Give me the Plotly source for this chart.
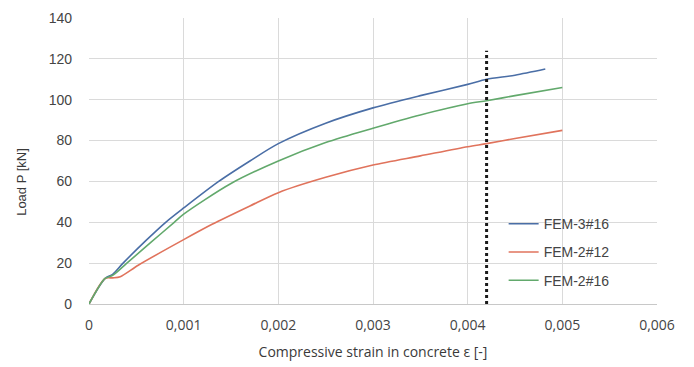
import plotly.graph_objects as go

# Data
strain_fem3_16 = [0, 0.00017, 0.00025, 0.00036, 0.0006, 0.00081, 0.001, 0.00137, 0.0017, 0.002, 0.0025, 0.003, 0.0035, 0.004, 0.0042, 0.0045, 0.00482]
load_fem3_16 = [0, 12.5, 14.5, 20, 31, 40, 47, 60, 70, 78.5, 88.5, 96, 102, 107.5, 110, 112, 115]

strain_fem2_12 = [0, 0.00017, 0.00025, 0.00033, 0.00052, 0.001, 0.0013, 0.0017, 0.002, 0.0025, 0.003, 0.0035, 0.004, 0.0042, 0.0045, 0.005]
load_fem2_12 = [0, 12.5, 12.8, 13.4, 19, 31.5, 39, 48, 54.5, 62, 68, 72.5, 77, 78.5, 81, 85]

strain_fem2_16 = [0, 0.00017, 0.00025, 0.0004, 0.00065, 0.0009, 0.001, 0.0015, 0.002, 0.0025, 0.003, 0.0035, 0.004, 0.0042, 0.0045, 0.005]
load_fem2_16 = [0, 12.5, 14, 20, 30, 40, 44, 59, 70, 79, 86, 92.5, 98, 99.5, 102, 106]

limit_strain = [0.0042, 0.0042]
limit_load = [0, 124]

x_tick_vals = [0, 0.001, 0.002, 0.003, 0.004, 0.005, 0.006]
x_tick_text = ["0", "0,001", "0,002", "0,003", "0,004", "0,005", "0,006"]
y_tick_vals = [0, 20, 40, 60, 80, 100, 120, 140]

series_names = ["FEM-3#16", "FEM-2#12", "FEM-2#16"]
colors = ["#4a6ea6", "#e0735c", "#62a96c"]

fig = go.Figure()
for name, xs, ys, c in zip(series_names,
                           [strain_fem3_16, strain_fem2_12, strain_fem2_16],
                           [load_fem3_16, load_fem2_12, load_fem2_16], colors):
    fig.add_trace(go.Scatter(x=xs, y=ys, mode="lines", name=name, legendgroup=name,
                             line=dict(color=c, width=1.6, shape="spline", smoothing=0.8)))

fig.add_trace(go.Scatter(x=limit_strain, y=limit_load, mode="lines", showlegend=False,
                         line=dict(color="#1a1a1a", width=3, dash="dot")))

fig.add_annotation(text="Load P [kN]", xref="paper", yref="paper", x=-0.118, y=0.427,
                   textangle=-90, showarrow=False, xanchor="center", yanchor="middle",
                   font=dict(size=13, color="#3a3a3a"))

fig.update_layout(
    width=694, height=367,
    margin=dict(l=81, r=45, t=10, b=71),
    paper_bgcolor="white", plot_bgcolor="white",
    font=dict(family="Liberation Sans, Arial, sans-serif", size=14, color="#444444"),
    legend=dict(x=0.73, y=0.335, xanchor="left", yanchor="top",
                bgcolor="rgba(0,0,0,0)", font=dict(size=14, color="#444444"),
                tracegroupgap=7),
    xaxis=dict(range=[0, 0.006], tickvals=x_tick_vals, ticktext=x_tick_text,
               automargin=False,
               showgrid=True, gridcolor="#dadada", gridwidth=1,
               zeroline=False, showline=True, linecolor="#c8c8c8", linewidth=1,
               ticks="", ticklabelstandoff=8,
               tickfont=dict(family="Open Sans, sans-serif", size=14, color="#444444"),
               title=dict(text="Compressive strain in concrete ε [-]",
                          font=dict(family="Open Sans, sans-serif", size=14, color="#3a3a3a"),
                          standoff=14)),
    yaxis=dict(range=[0, 140], tickvals=y_tick_vals, automargin=False,
               showgrid=True, gridcolor="#dadada", gridwidth=1,
               zeroline=False, showline=False, ticks="", ticklabelstandoff=16,
               tickfont=dict(size=14, color="#444444")),
)

fig.write_html("out.html")
